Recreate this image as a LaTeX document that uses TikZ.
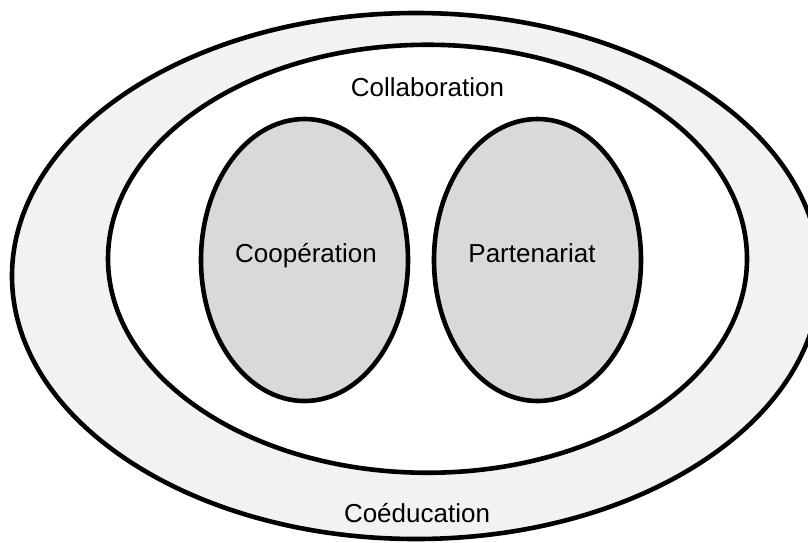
\documentclass[tikz,border=0pt]{standalone}
\usepackage{fontspec}
\setmainfont{Liberation Sans}
\usetikzlibrary{shapes.geometric}
\definecolor{outerfill}{HTML}{F2F2F2}
\definecolor{blobfill}{HTML}{D9D9D9}
\begin{document}
\begin{tikzpicture}[x=1pt,y=-1pt,
  ring/.style={ellipse, draw=black, line width=4.6pt, inner sep=0pt, outer sep=0pt},
  lbl/.style={anchor=base, font=\fontsize{26}{30}\selectfont, inner sep=0pt}]
\useasboundingbox (0,0) rectangle (808,542);
\clip (0,0) rectangle (808,542);
\node[ring, fill=outerfill, minimum width=808pt, minimum height=526pt] (coed) at (416,276) {};
\node[ring, fill=white, minimum width=639pt, minimum height=428pt] (collab) at (427.5,258.75) {};
\node[ring, fill=blobfill, minimum width=207pt, minimum height=282pt] (coop) at (304.5,260) {};
\node[ring, fill=blobfill, minimum width=207pt, minimum height=282pt] (part) at (537.5,260) {};
\node[lbl] (tcollab) at (427.5,96) {Collaboration};
\node[lbl] (tcoop) at (306,262) {Coopération};
\node[lbl] (tpart) at (532,262) {Partenariat};
\node[lbl] (tcoed) at (417,522) {Coéducation};
\end{tikzpicture}
\end{document}
